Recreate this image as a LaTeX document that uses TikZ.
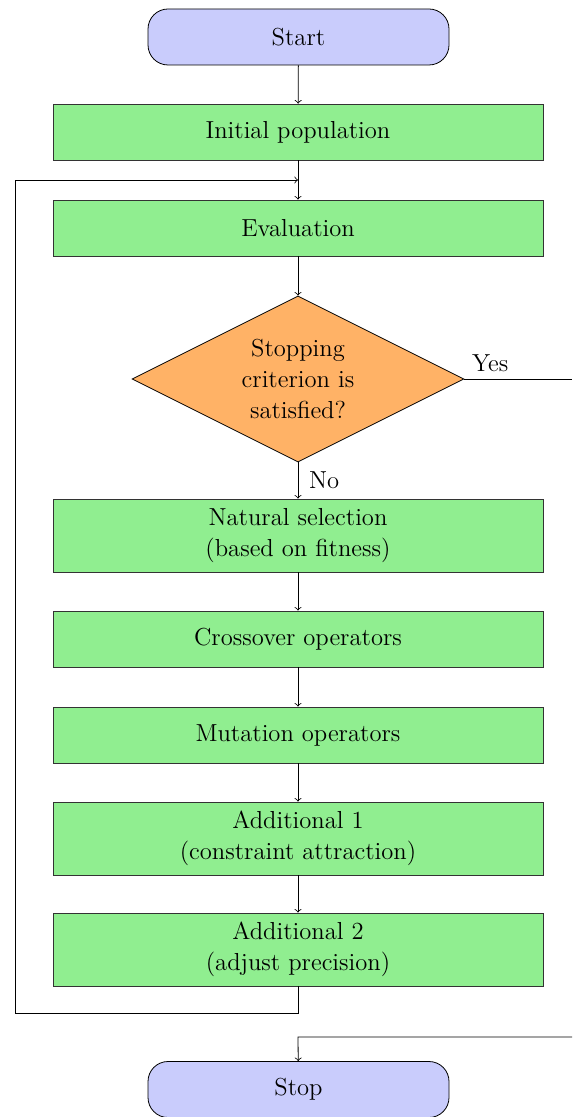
\documentclass[tikz,border=0pt]{standalone}
\usetikzlibrary{shapes.geometric}
\begin{document}
\begin{tikzpicture}[x=0.5pt,y=-0.5pt,
  font=\fontsize{12.3}{15.5}\selectfont,
  every path/.style={line width=0.4pt},
  proc/.style={rectangle,draw=black!80,fill={rgb,255:red,144;green,238;blue,144},minimum width=245pt,minimum height=28pt,align=center,inner sep=0pt},
  proc2/.style={proc,minimum height=36.5pt},
  term/.style={rectangle,rounded corners=10pt,draw=black,fill={rgb,255:red,201;green,204;blue,252},minimum width=150.5pt,minimum height=28pt,align=center,inner sep=0pt},
  decis/.style={diamond,aspect=2,draw=black,fill={rgb,255:red,255;green,178;blue,102},minimum width=166pt,minimum height=83pt,inner sep=0pt,align=center},
  arr/.style={->}]
\useasboundingbox (0,0) rectangle (572,1117);
\node[term] (start) at (298.5,37) {Start};
\node[proc] (init) at (298,132) {Initial population};
\node[proc] (eval) at (298,228) {Evaluation};
\node[decis] (dec) at (298,379) {Stopping\\criterion is\\satisfied?};
\node[proc2] (sel) at (298,535.5) {Natural selection\\(based on fitness)};
\node[proc] (cross) at (298,639) {Crossover operators};
\node[proc] (mut) at (298,735) {Mutation operators};
\node[proc2] (add1) at (298,838.5) {Additional 1\\(constraint attraction)};
\node[proc2] (add2) at (298,949.5) {Additional 2\\(adjust precision)};
\node[term] (stop) at (298.5,1089.5) {Stop};
\coordinate (loopin) at (298,180);
\coordinate (yesend) at (572,379);
\coordinate (yesin) at (572,1037);
\coordinate (stopin) at (298,1037);

\draw[arr] (start) -- (init);
\draw[arr] (init) -- (eval);
\draw[arr] (eval) -- (dec);
\draw[arr] (dec) -- node[right,pos=0.5,xshift=2pt]{No} (sel);
\draw[arr] (sel) -- (cross);
\draw[arr] (cross) -- (mut);
\draw[arr] (mut) -- (add1);
\draw[arr] (add1) -- (add2);
\draw[arr] (add2.south) -- (298,1013) -- (15,1013) -- (15,180) -- (loopin);
\draw (dec.east) -- node[above,pos=0.24]{Yes} (yesend);
\draw[arr] (yesin) -- (stopin) -- (stop);
\end{tikzpicture}
\end{document}
